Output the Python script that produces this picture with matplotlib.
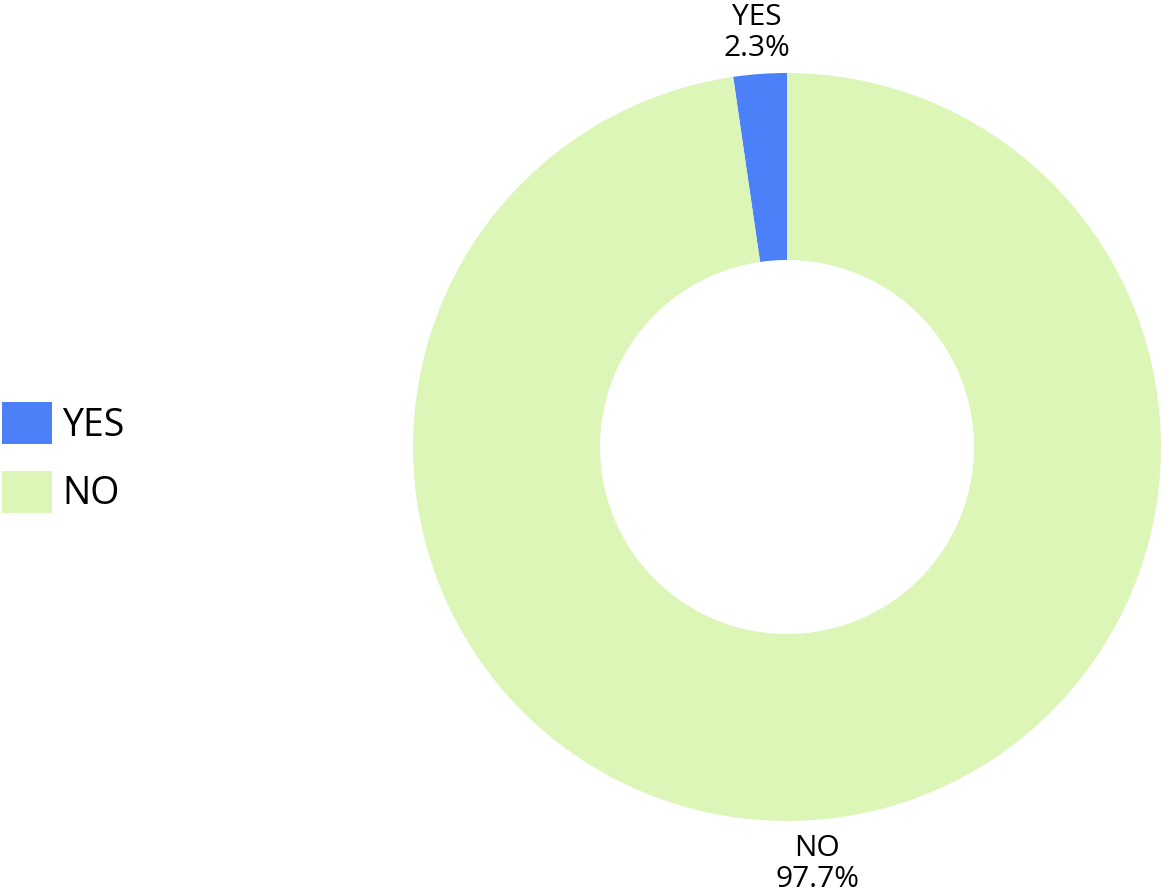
import numpy as np
import matplotlib
matplotlib.use("Agg")
import matplotlib.pyplot as plt

labels = ["YES", "NO"]
shares = [2.3, 97.7]
colors = ["#4b80f8", "#dcf6b8"]

plt.rcParams['font.family'] = ['Open Sans', 'DejaVu Sans']

fig = plt.figure(figsize=(11.62, 8.94), dpi=100)
ax = fig.add_axes([0, 0, 1, 1])
ax.set_xlim(0, 1162)
ax.set_ylim(0, 894)
ax.set_aspect('equal')
ax.axis('off')

center = (787, 447)
radius = 374
wedges, _ = ax.pie(shares, colors=colors, startangle=90, counterclock=True,
                   center=center, radius=radius,
                   wedgeprops=dict(width=radius * 0.5, linewidth=0))

# labels outside the ring, centred on each wedge's mid angle
for w, lab, val in zip(wedges, labels, shares):
    mid = np.deg2rad((w.theta1 + w.theta2) / 2)
    r = radius * 1.114
    x = center[0] + r * np.cos(mid)
    y = center[1] + r * np.sin(mid) - 1.5
    ax.text(x, y, f"{lab}\n{val}%", ha='center', va='center',
            fontsize=21.5, linespacing=1.1, color='black')

ax.set_xlim(0, 1162)
ax.set_ylim(0, 894)

ax.legend(wedges, labels, loc='center left', bbox_to_anchor=(2 / 1162, 0.488),
          bbox_transform=fig.transFigure, frameon=False, fontsize=27,
          handlelength=1.33, handleheight=1.35, handletextpad=0.27,
          labelspacing=0.7, borderpad=0, borderaxespad=0)

fig.savefig("out.png", dpi=100)
